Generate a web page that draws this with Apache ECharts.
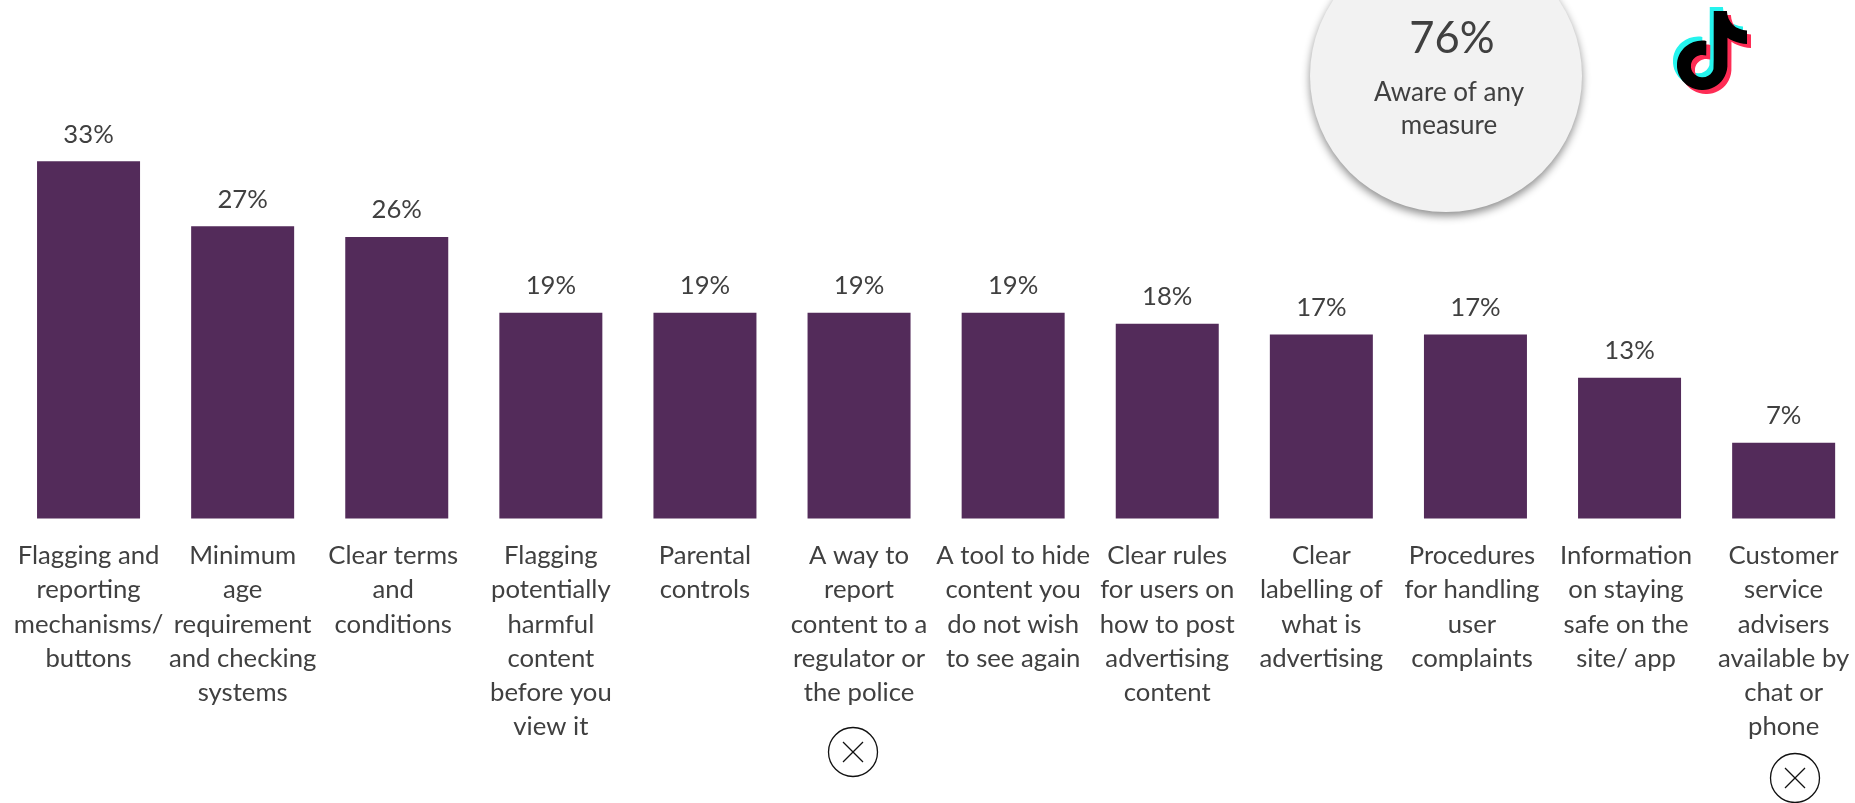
<!DOCTYPE html>
<html>
<head>
<meta charset="utf-8">
<style>html,body{margin:0;padding:0;background:#fff;overflow:hidden}#c{width:1855px;height:803px}</style>
<script src="https://cdn.jsdelivr.net/npm/echarts@6/dist/echarts.min.js"></script>
</head>
<body>
<div id="c"></div>
<script>
const categories = [
  "Flagging and\nreporting\nmechanisms/\nbuttons",
  "Minimum\nage\nrequirement\nand checking\nsystems",
  "Clear terms\nand\nconditions",
  "Flagging\npotentially\nharmful\ncontent\nbefore you\nview it",
  "Parental\ncontrols",
  "A way to\nreport\ncontent to a\nregulator or\nthe police",
  "A tool to hide\ncontent you\ndo not wish\nto see again",
  "Clear rules\nfor users on\nhow to post\nadvertising\ncontent",
  "Clear\nlabelling of\nwhat is\nadvertising",
  "Procedures\nfor handling\nuser\ncomplaints",
  "Information\non staying\nsafe on the\nsite/ app",
  "Customer\nservice\nadvisers\navailable by\nchat or\nphone"
];
const values = [33, 27, 26, 19, 19, 19, 19, 18, 17, 17, 13, 7];
const awareValue = "76%";
const awareText = "Aware of any\nmeasure";

const FONT = "Lato";
const TEXT = "#404040";
const leftShifted = [2, 9, 10];
const logoPath = "M12.525.02c1.31-.02 2.61-.01 3.91-.02.08 1.53.63 3.09 1.75 4.17 1.12 1.11 2.7 1.62 4.24 1.79v4.03c-1.44-.05-2.89-.35-4.2-.97-.57-.26-1.1-.59-1.62-.93-.01 2.92.01 5.84-.02 8.75-.08 1.4-.54 2.79-1.35 3.94-1.31 1.92-3.58 3.17-5.91 3.21-1.43.08-2.86-.31-4.08-1.03-2.02-1.19-3.44-3.37-3.65-5.71-.02-.5-.03-1-.01-1.49.18-1.9 1.12-3.72 2.58-4.96 1.66-1.44 3.98-2.13 6.15-1.72.02 1.48-.04 2.96-.04 4.44-.99-.32-2.15-.23-3.02.37-.63.41-1.11 1.04-1.36 1.75-.21.51-.15 1.07-.14 1.61.24 1.64 1.82 3.02 3.5 2.87 1.12-.01 2.19-.66 2.77-1.61.19-.33.4-.67.41-1.06.1-1.79.06-3.57.07-5.36.01-4.03-.01-8.05.02-12.07z";

function logo(dx, dy, color) {
  return { type: 'path', shape: { pathData: logoPath, layout: 'cover', x: 1677 + dx, y: 11 + dy, width: 70, height: 79 }, style: { fill: color } };
}
function crossCircle(cx, cy) {
  const r = 24.5, a = 10;
  const st = { stroke: '#111', lineWidth: 1.3, fill: null };
  return [
    { type: 'circle', z: 10, shape: { cx, cy, r }, style: { stroke: '#111', lineWidth: 1.3, fill: '#fff' } },
    { type: 'line', z: 11, shape: { x1: cx - a, y1: cy - a, x2: cx + a, y2: cy + a }, style: st },
    { type: 'line', z: 11, shape: { x1: cx - a, y1: cy + a, x2: cx + a, y2: cy - a }, style: st }
  ];
}

const chart = echarts.init(document.getElementById('c'), null, { renderer: 'canvas' });
chart.setOption({
  animation: false,
  backgroundColor: '#fff',
  grid: { left: 11.5, top: 85.5, width: 1849.2, height: 433, containLabel: false, outerBoundsMode: 'none' },
  xAxis: {
    type: 'category',
    data: categories.map((c, i) => leftShifted.includes(i) ? { value: c, textStyle: { padding: [0, 7, 0, 0] } } : c),
    axisLine: { show: false },
    axisTick: { show: false },
    axisLabel: {
      interval: 0, hideOverlap: false, margin: 20,
      fontFamily: FONT, fontSize: 25.7, lineHeight: 34.3, color: TEXT, align: 'center', verticalAlign: 'top'
    }
  },
  yAxis: { type: 'value', min: 0, max: 40, show: false, splitLine: { show: false } },
  series: [{
    type: 'bar',
    data: values,
    barWidth: 103,
    itemStyle: { color: '#532B5A' },
    label: {
      show: true, position: 'top', distance: 14,
      formatter: p => p.value + '%',
      fontFamily: FONT, fontSize: 25.7, color: TEXT
    }
  }, {
    type: 'custom',
    silent: true,
    z: 10,
    data: [0],
    clip: false,
    renderItem: () => ({
      type: 'group',
      children: [logo(-4, -4, '#25F4EE'), logo(4, 4, '#FE2C55'), logo(0, 0, '#000000')]
    })
  }],
  graphic: [
    { type: 'circle', z: 5, shape: { cx: 1446, cy: 76, r: 136 },
      style: { fill: '#F2F2F2', shadowBlur: 9, shadowOffsetY: 4, shadowColor: 'rgba(0,0,0,0.45)' } },
    { type: 'text', z: 6, x: 1452, y: 39,
      style: { text: awareValue, fontFamily: FONT, fontSize: 43.5, fill: TEXT, align: 'center', verticalAlign: 'middle' } },
    { type: 'text', z: 6, x: 1449, y: 109,
      style: { text: awareText, fontFamily: FONT, fontSize: 26, lineHeight: 33, fill: TEXT, align: 'center', verticalAlign: 'middle' } },
    ...crossCircle(853, 752),
    ...crossCircle(1795, 778)
  ]
});
</script>
</body>
</html>
